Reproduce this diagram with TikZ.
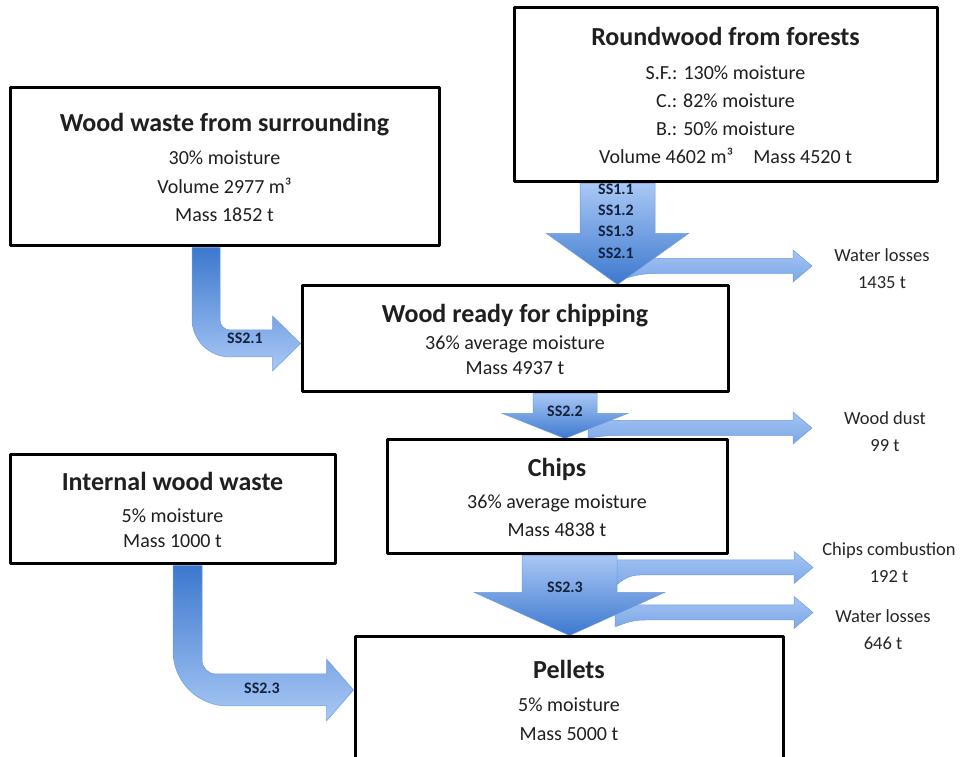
\documentclass[tikz,border=0pt]{standalone}
\usepackage{fontspec}
\setmainfont{Carlito}
\usetikzlibrary{calc}
\pgfdeclarelayer{background}
\pgfsetlayers{background,main}
\definecolor{flowlite}{HTML}{A9C8F5}
\definecolor{flowdark}{HTML}{3C78CE}
\definecolor{sidetop}{HTML}{A3C4F3}
\definecolor{sidebot}{HTML}{7CA7E7}
\definecolor{flowedge}{HTML}{6E9CE0}
\definecolor{ssblue}{HTML}{14213D}
\newcommand\ttl[1]{{\fontsize{26}{30}\selectfont\bfseries #1}}
% straight block arrow: top point, tip point, shaft half, head half, head length
\newcommand\bigdn[5]{%
  \path[flowdn] let \p1=#1, \p2=#2 in
    (\x1-#3pt,\y1) -- (\x1+#3pt,\y1) -- (\x1+#3pt,\y2+#5pt) -- (\x1+#4pt,\y2+#5pt)
    -- (\x1,\y2) -- (\x1-#4pt,\y2+#5pt) -- (\x1-#3pt,\y2+#5pt) -- cycle;}
% thin side arrow: start, tip, hook depth
\newcommand\sidearr[3]{%
  \path[flowside] let \p1=#1, \p2=#2 in
    (\x1,\y1+7.5pt) -- (\x2-19pt,\y1+7.5pt) -- (\x2-19pt,\y1+16pt) -- (\x2,\y1)
    -- (\x2-19pt,\y1-16pt) -- (\x2-19pt,\y1-7.5pt) -- (\x1+30pt,\y1-7.5pt)
    .. controls (\x1+12pt,\y1-7.5pt) and (\x1+4pt,\y1-#3pt) .. (\x1,\y1-#3pt) -- cycle;}
\tikzset{
  box/.style={draw=black, line width=3pt, fill=white, align=center, inner sep=0pt,
    text=black!88, font=\fontsize{20}{28}\selectfont},
  side/.style={align=center, text=black!85, font=\fontsize{18.5}{27}\selectfont},
  sslbl/.style={align=center, text=ssblue, font=\fontsize{16}{21.3}\selectfont\bfseries},
  flowdn/.style={top color=flowlite, bottom color=flowdark, draw=flowedge, line width=0.5pt},
  flowbent/.style={top color=flowdark, bottom color=flowlite, draw=flowedge, line width=0.5pt},
  flowside/.style={top color=sidetop, bottom color=sidebot, draw=flowedge, line width=0.5pt}
}
\begin{document}
\begin{tikzpicture}[x=1pt, y=1pt, line join=round]
  \useasboundingbox (0,0) rectangle (966,757);
  %\draw[gray!30] (0,0) grid[step=50] (966,757);

  % boxes
  \node[box, minimum width=423pt, minimum height=174pt] (rw) at (725.5,662)
    {\ttl{Roundwood from forests}\\[6pt] S.F.: 130\% moisture\\ C.: 82\% moisture\\
     B.: 50\% moisture\\ Volume 4602 m³\hspace{20pt}Mass 4520 t};
  \node[box, minimum width=429pt, minimum height=158pt] (ws) at (224.5,590)
    {\ttl{Wood waste from surrounding}\\[5pt] 30\% moisture\\[1pt] Volume 2977 m³\\ Mass 1852 t};
  \node[box, minimum width=426pt, minimum height=106pt] (rd) at (515,418)
    {\ttl{Wood ready for chipping}\\[-1pt] 36\% average moisture\\[-3pt] Mass 4937 t};
  \node[box, minimum width=340pt, minimum height=114pt] (ch) at (557,260)
    {\ttl{Chips}\\[4pt] 36\% average moisture\\ Mass 4838 t};
  \node[box, minimum width=325pt, minimum height=109pt] (iw) at (172.5,247.5)
    {\ttl{Internal wood waste}\\[4pt] 5\% moisture\\[-3pt] Mass 1000 t};
  \node[box, minimum width=428pt, minimum height=126pt] (pe) at (569,57)
    {\ttl{Pellets}\\[5pt] 5\% moisture\\[1pt] Mass 5000 t};

  % outputs
  \node[side] (wl1) at (882,488) {Water losses\\1435 t};
  \node[side] (wd) at (885,325.5) {Wood dust\\99 t};
  \node[side] (cc) at (889,194.5) {Chips combustion\\192 t};
  \node[side] (wl2) at (883,127) {Water losses\\646 t};

  \coordinate (aA) at (625,491);   \coordinate (tA) at (812,491);
  \coordinate (aB) at (588,329);   \coordinate (tB) at (812,329);
  \coordinate (aC) at (610,189.5); \coordinate (tC) at (813,189.5);
  \coordinate (aD) at (615,144.5); \coordinate (tD) at (813,144.5);

  \begin{pgfonlayer}{background}
    \sidearr{(aA)}{(tA)}{12}
    \sidearr{(aB)}{(tB)}{10}
    \sidearr{(aC)}{(tC)}{22}
    \sidearr{(aD)}{(tD)}{14}

    \bigdn{(617.5,0 |- rw.south)}{(617.5,0 |- rd.north)}{37.5}{71}{51}
    \bigdn{(565,0 |- rd.south)}{(565,0 |- ch.north)}{32}{62.5}{25}
    \bigdn{(569.5,0 |- ch.south)}{(569.5,0 |- pe.north)}{47.5}{95}{43}

    % bent arrow into wood ready
    \path[flowbent] let \p1=(206,0 |- ws.south), \p2=([yshift=-4.5pt]rd.west) in
      (\x1-14pt,\y1) -- (\x1-14pt,\y2+24.5pt) arc[start angle=180, end angle=270, radius=38pt]
      -- (\x2-28pt,\y2-13.5pt) -- (\x2-28pt,\y2-27.5pt) -- (\x2,\y2) -- (\x2-28pt,\y2+27.5pt)
      -- (\x2-28pt,\y2+13.5pt) -- (\x1+24pt,\y2+13.5pt) arc[start angle=270, end angle=180, radius=10pt]
      -- (\x1+14pt,\y1) -- cycle;
    % bent arrow into pellets
    \path[flowbent] let \p1=(187.5,0 |- iw.south), \p2=([yshift=10pt]pe.west) in
      (\x1-14.5pt,\y1) -- (\x1-14.5pt,\y2+39pt) arc[start angle=180, end angle=270, radius=55pt]
      -- (\x2-27pt,\y2-16pt) -- (\x2-27pt,\y2-31pt) -- (\x2,\y2) -- (\x2-27pt,\y2+31pt)
      -- (\x2-27pt,\y2+16pt) -- (\x1+28.5pt,\y2+16pt) arc[start angle=270, end angle=180, radius=14pt]
      -- (\x1+14.5pt,\y1) -- cycle;
  \end{pgfonlayer}

  % stage labels
  \node[sslbl] (ssA) at (616,536) {SS1.1\\SS1.2\\SS1.3\\SS2.1};
  \node[sslbl] (ssB) at (245,419) {SS2.1};
  \node[sslbl] (ssC) at (565,346) {SS2.2};
  \node[sslbl] (ssD) at (565,170) {SS2.3};
  \node[sslbl] (ssE) at (262,69) {SS2.3};
\end{tikzpicture}
\end{document}
